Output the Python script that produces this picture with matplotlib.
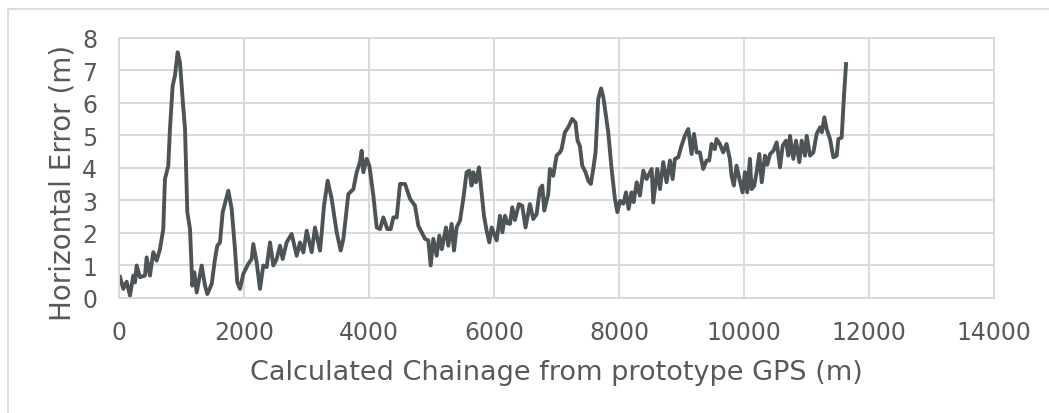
import matplotlib
matplotlib.use("Agg")
import matplotlib.pyplot as plt
from matplotlib.lines import Line2D

# chainage (m) and horizontal error (m) along the route
chainage = [8, 61, 115, 168, 221, 248, 275, 328, 408, 435, 488, 541, 595, 648,
            701, 728, 781, 808, 851, 888, 931, 968, 1011, 1049, 1086, 1129,
            1166, 1198, 1236, 1316, 1369, 1406, 1476, 1529, 1566, 1609, 1652,
            1742, 1796, 1849, 1886, 1929, 1982, 2062, 2116, 2142, 2196, 2249,
            2302, 2356, 2410, 2463, 2516, 2570, 2612, 2676, 2756, 2837, 2890,
            2943, 2997, 3077, 3130, 3210, 3237, 3274, 3333, 3397, 3477, 3541,
            3584, 3664, 3744, 3797, 3850, 3877, 3904, 3957, 4000, 4064, 4118,
            4171, 4224, 4288, 4342, 4384, 4438, 4491, 4571, 4651, 4731, 4784,
            4838, 4891, 4944, 4982, 5024, 5077, 5120, 5160, 5227, 5264, 5317,
            5355, 5397, 5451, 5504, 5557, 5600, 5637, 5664, 5707, 5755, 5797,
            5835, 5878, 5920, 5958, 6038, 6091, 6130, 6171, 6210, 6251, 6288,
            6330, 6394, 6447, 6500, 6570, 6624, 6677, 6730, 6768, 6800, 6864,
            6890, 6944, 6997, 7050, 7077, 7130, 7183, 7247, 7300, 7333, 7370,
            7408, 7461, 7504, 7546, 7584, 7621, 7664, 7710, 7744, 7824, 7878,
            7931, 7970, 8013, 8066, 8109, 8150, 8197, 8230, 8280, 8331, 8385,
            8438, 8519, 8545, 8609, 8652, 8705, 8758, 8812, 8855, 8891, 8945,
            8998, 9051, 9105, 9158, 9197, 9240, 9291, 9344, 9398, 9440, 9478,
            9531, 9558, 9611, 9664, 9718, 9771, 9798, 9835, 9878, 9920, 9975,
            10012, 10049, 10092, 10119, 10160, 10199, 10242, 10281, 10333,
            10370, 10415, 10468, 10521, 10574, 10617, 10670, 10707, 10734,
            10787, 10830, 10883, 10921, 10974, 11001, 11054, 11108, 11161,
            11214, 11245, 11283, 11321, 11374, 11428, 11481, 11508, 11561,
            11598, 11631]
h_error = [0.65, 0.28, 0.50, 0.07, 0.69, 0.48, 1.00, 0.64, 0.69, 1.25, 0.69,
           1.41, 1.15, 1.50, 2.12, 3.66, 4.07, 5.20, 6.53, 6.84, 7.56, 7.25,
           6.12, 5.20, 2.64, 2.12, 0.38, 0.79, 0.17, 1.00, 0.38, 0.12, 0.43,
           1.20, 1.61, 1.71, 2.64, 3.30, 2.74, 1.50, 0.48, 0.28, 0.74, 1.05,
           1.20, 1.66, 1.10, 0.28, 1.00, 0.95, 1.71, 1.00, 1.20, 1.61, 1.20,
           1.71, 1.97, 1.30, 1.71, 1.40, 2.07, 1.41, 2.17, 1.46, 2.00, 2.84,
           3.61, 3.05, 2.02, 1.46, 1.82, 3.20, 3.35, 3.87, 4.18, 4.53, 3.87,
           4.28, 4.07, 3.15, 2.17, 2.12, 2.48, 2.12, 2.12, 2.48, 2.48, 3.51,
           3.51, 3.05, 2.84, 2.22, 2.02, 1.82, 1.77, 1.00, 1.82, 1.30, 1.92,
           1.50, 2.17, 1.61, 2.28, 1.46, 2.17, 2.38, 3.05, 3.87, 3.92, 3.46,
           3.87, 3.56, 4.02, 3.25, 2.53, 2.07, 1.71, 2.17, 1.77, 2.53, 2.02,
           2.53, 2.30, 2.28, 2.79, 2.40, 2.89, 2.84, 2.17, 2.89, 2.43, 2.58,
           3.35, 3.46, 2.69, 3.20, 3.97, 3.76, 4.38, 4.48, 4.58, 5.10, 5.25,
           5.51, 5.40, 4.84, 4.68, 4.07, 3.87, 3.61, 3.51, 3.97, 4.48, 6.12,
           6.45, 6.20, 5.10, 3.97, 3.05, 2.64, 2.99, 2.90, 3.25, 2.74, 3.25,
           2.95, 3.56, 3.15, 3.92, 3.66, 3.97, 2.94, 3.97, 3.35, 4.18, 3.56,
           4.23, 3.66, 4.28, 4.33, 4.69, 4.99, 5.20, 4.43, 5.05, 4.48, 4.48,
           3.97, 4.23, 4.23, 4.74, 4.58, 4.89, 4.74, 4.48, 4.74, 4.28, 3.76,
           3.46, 4.07, 3.70, 3.25, 3.87, 3.25, 4.28, 3.35, 3.45, 3.87, 4.43,
           3.56, 4.38, 4.10, 4.43, 4.53, 4.79, 4.02, 4.69, 4.84, 4.38, 4.99,
           4.28, 4.84, 4.18, 4.84, 4.38, 4.99, 4.38, 4.48, 5.05, 5.25, 5.10,
           5.56, 5.20, 4.89, 4.33, 4.38, 4.89, 4.94, 6.22, 7.20]

x_ticks = [0, 2000, 4000, 6000, 8000, 10000, 12000, 14000]
y_ticks = [0, 1, 2, 3, 4, 5, 6, 7, 8]

line_col = "#4D5458"
grid_col = "#D9D9D9"
text_col = "#595959"

fig = plt.figure(figsize=(10.49, 4.14), dpi=100)
ax = fig.add_axes([0.1139, 0.2778, 0.8337, 0.6280])

ax.plot(chainage, h_error, color=line_col, lw=2.8, solid_joinstyle="round")

ax.set_xlim(0, 14000)
ax.set_ylim(0, 8)
ax.set_xticks(x_ticks)
ax.set_yticks(y_ticks)
ax.grid(True, color=grid_col, lw=1.4)
ax.set_axisbelow(True)
for s in ax.spines.values():
    s.set_color(grid_col)
    s.set_linewidth(1.4)
ax.tick_params(length=0, labelsize=17, colors=text_col, pad=16)

ax.set_xlabel("Calculated Chainage from prototype GPS (m)", fontsize=19.5,
              color=text_col)
ax.set_ylabel("Horizontal Error (m)", fontsize=20, color=text_col)
ax.xaxis.set_label_coords(0.5, -0.236)
ax.yaxis.set_label_coords(-0.049, 0.446)

# chart frame (top and left edges visible)
fig.add_artist(Line2D([7.5 / 1049, 1.0], [1 - 10 / 414, 1 - 10 / 414],
                      transform=fig.transFigure, color=grid_col, lw=1.3))
fig.add_artist(Line2D([7.5 / 1049, 7.5 / 1049], [0.0, 1 - 10 / 414],
                      transform=fig.transFigure, color=grid_col, lw=1.3))

fig.savefig("out.png", dpi=100)
